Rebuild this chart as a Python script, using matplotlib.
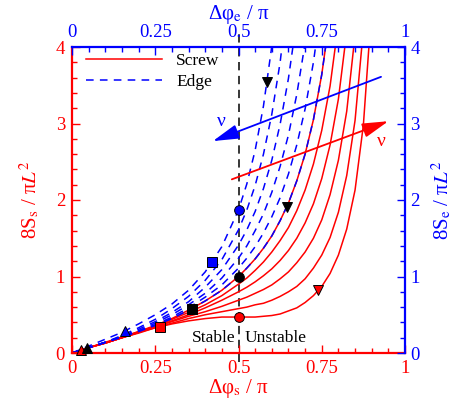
import matplotlib
matplotlib.use('Agg')
import matplotlib.pyplot as plt
from matplotlib.ticker import MultipleLocator

plt.rcParams['font.family'] = 'Liberation Serif'
plt.rcParams['mathtext.fontset'] = 'stix'
plt.rcParams['lines.scale_dashes'] = False

# delta phi / pi sampling
dphi = [0.0, 0.05, 0.1, 0.15, 0.2, 0.25, 0.3, 0.35, 0.4, 0.45, 0.5, 0.525, 0.55, 0.575, 0.6, 0.625,
        0.65, 0.675, 0.7, 0.725, 0.75, 0.775, 0.8, 0.825, 0.85, 0.875, 0.9, 0.925, 0.95]

# screw curves, nu = 0 .. 0.5
screw_00 = [0.00, 0.07, 0.14, 0.21, 0.28, 0.36, 0.45, 0.56, 0.68, 0.82, 1.00, 1.11, 1.23, 1.37, 1.53, 1.73,
            1.96, 2.25, 2.60, 3.05, 3.64, 4.42]
screw_01 = [0.00, 0.07, 0.13, 0.20, 0.28, 0.35, 0.44, 0.53, 0.63, 0.75, 0.90, 0.98, 1.08, 1.19, 1.32, 1.47,
            1.64, 1.86, 2.13, 2.47, 2.91, 3.49, 4.31]
screw_02 = [0.00, 0.07, 0.13, 0.20, 0.27, 0.35, 0.42, 0.50, 0.59, 0.69, 0.80, 0.86, 0.93, 1.01, 1.10, 1.21,
            1.34, 1.50, 1.70, 1.95, 2.28, 2.72, 3.32, 4.20]
screw_03 = [0.00, 0.07, 0.13, 0.20, 0.27, 0.34, 0.41, 0.48, 0.54, 0.61, 0.69, 0.73, 0.78, 0.83, 0.89, 0.97,
            1.06, 1.18, 1.32, 1.50, 1.74, 2.07, 2.52, 3.16, 4.16]
screw_04 = [0.00, 0.07, 0.13, 0.20, 0.27, 0.33, 0.39, 0.45, 0.50, 0.54, 0.58, 0.60, 0.63, 0.65, 0.69, 0.74,
            0.80, 0.87, 0.97, 1.11, 1.28, 1.51, 1.84, 2.32, 3.04, 4.23]
screw_05 = [0.00, 0.07, 0.13, 0.20, 0.26, 0.33, 0.38, 0.42, 0.45, 0.47, 0.47, 0.47, 0.47, 0.48, 0.49, 0.51,
            0.55, 0.59, 0.66, 0.75, 0.87, 1.04, 1.28, 1.62, 2.13, 2.98, 4.52]

# edge curves, nu = 0.1 .. 0.5 (nu = 0 is the same as screw)
edge_01 = [0.00, 0.07, 0.14, 0.21, 0.29, 0.37, 0.47, 0.59, 0.73, 0.89, 1.11, 1.24, 1.39, 1.57, 1.78, 2.03,
           2.34, 2.72, 3.19, 3.80, 4.60]
edge_02 = [0.00, 0.07, 0.14, 0.21, 0.29, 0.39, 0.50, 0.63, 0.78, 0.98, 1.24, 1.40, 1.60, 1.82, 2.10, 2.44,
           2.85, 3.38, 4.05]
edge_03 = [0.00, 0.07, 0.14, 0.22, 0.31, 0.41, 0.53, 0.67, 0.86, 1.09, 1.41, 1.61, 1.85, 2.15, 2.52, 2.99,
           3.59, 4.36]
edge_04 = [0.00, 0.07, 0.14, 0.23, 0.33, 0.44, 0.58, 0.74, 0.95, 1.22, 1.61, 1.87, 2.19, 2.60, 3.12, 3.80,
           4.72]
edge_05 = [0.00, 0.09, 0.18, 0.27, 0.38, 0.50, 0.64, 0.82, 1.06, 1.39, 1.87, 2.21, 2.65, 3.23, 4.01]

screw = [screw_00, screw_01, screw_02, screw_03, screw_04, screw_05]
edge = [screw_00, edge_01, edge_02, edge_03, edge_04, edge_05]

# special points
circ_x, circ_y = [0.5, 0.5, 0.5], [0.47, 1.0, 1.87]
circ_c = ['red', 'black', 'blue']
sq_x, sq_y = [0.264, 0.36, 0.42], [0.345, 0.58, 1.19]
sq_c = ['red', 'black', 'blue']
tup_x, tup_y = [0.028, 0.045, 0.16], [0.045, 0.065, 0.29]
tup_c = ['red', 'black', 'blue']
tdn_x, tdn_y = [0.74, 0.645, 0.585], [0.83, 1.91, 3.54]
tdn_c = ['red', 'black', 'black']

fig = plt.figure(figsize=(4.54, 4.01), dpi=100)
ax = fig.add_axes([72 / 454, 48 / 401, 333 / 454, 306 / 401])

for i, y in enumerate(screw):
    ax.plot(dphi[:len(y)], y, color='red', lw=1.1, label='Screw' if i == 0 else None)
for i, y in enumerate(edge):
    ax.plot(dphi[:len(y)], y, color='blue', lw=1.1, dashes=(5.5, 4.5), label='Edge' if i == 0 else None)

# stability limit
ax.axvline(0.5, ymin=-0.03, ymax=1.045, color='black', lw=1.1, dashes=(6, 4), clip_on=False, zorder=1)

for xs, ys, cs, m, ms in [(circ_x, circ_y, circ_c, 'o', 7), (sq_x, sq_y, sq_c, 's', 6.5),
                          (tup_x, tup_y, tup_c, '^', 7), (tdn_x, tdn_y, tdn_c, 'v', 7)]:
    for x, y, c in zip(xs, ys, cs):
        ax.plot(x, y, marker=m, ms=ms, mfc=c, mec='black', mew=0.7, ls='none', zorder=5, clip_on=False)

# nu arrows
ax.annotate('', xy=(0.423, 2.77), xytext=(0.928, 3.61),
            arrowprops=dict(arrowstyle='-|>,head_length=0.8,head_width=0.22', color='blue', lw=1.3,
                            mutation_scale=20, shrinkA=0, shrinkB=0))
ax.annotate('', xy=(0.95, 3.03), xytext=(0.48, 2.27),
            arrowprops=dict(arrowstyle='-|>,head_length=0.8,head_width=0.22', color='red', lw=1.3,
                            mutation_scale=20, shrinkA=0, shrinkB=0))
ax.text(0.45, 3.02, 'ν', color='blue', fontsize=14, ha='center', va='center')
ax.text(0.93, 2.76, 'ν', color='red', fontsize=14, ha='center', va='center')

ax.text(0.49, 0.2, 'Stable', fontsize=12.5, ha='right', va='center')
ax.text(0.518, 0.2, 'Unstable', fontsize=12.5, ha='left', va='center')

ax.legend(loc='upper left', bbox_to_anchor=(0.005, 1.02), frameon=False, fontsize=12.5,
          handlelength=4.4, handletextpad=0.8, labelspacing=0.25, borderaxespad=0.3)

ax.set_xlim(0, 1)
ax.set_ylim(0, 4)
ticks = [0, 0.25, 0.5, 0.75, 1]
tlabels = ['0', '0.25', '0.5', '0.75', '1']
ax.set_xticks(ticks)
ax.set_xticklabels(tlabels)
ax.xaxis.set_minor_locator(MultipleLocator(0.05))
ax.yaxis.set_major_locator(MultipleLocator(1))
ax.yaxis.set_minor_locator(MultipleLocator(0.2))
ax.tick_params(which='both', direction='in', colors='red', labelsize=13.5, width=1.0, pad=5)
ax.tick_params(which='major', length=6)
ax.tick_params(which='minor', length=3.5)
ax.spines['left'].set_color('red')
ax.spines['bottom'].set_color('red')
ax.spines['top'].set_visible(False)
ax.spines['right'].set_visible(False)
for s in ['left', 'bottom']:
    ax.spines[s].set_linewidth(1.6)
ax.set_xlabel('Δφ$_{\\rm s}$ / π', color='red', fontsize=15, labelpad=0)
ax.set_ylabel('8S$_{\\rm s}$ / π$L^2$', color='red', fontsize=15, labelpad=10)

axr = ax.twinx()
axr.set_ylim(0, 4)
axr.yaxis.set_major_locator(MultipleLocator(1))
axr.yaxis.set_minor_locator(MultipleLocator(0.2))
axt = ax.twiny()
axt.set_xlim(0, 1)
axt.set_xticks(ticks)
axt.set_xticklabels(tlabels)
axt.xaxis.set_minor_locator(MultipleLocator(0.05))
for a in (axr, axt):
    a.tick_params(which='both', direction='in', colors='blue', labelsize=13.5, width=1.0, pad=4)
    a.tick_params(which='major', length=6)
    a.tick_params(which='minor', length=3.5)
    for s in a.spines.values():
        s.set_visible(False)
axr.spines['right'].set_visible(True)
axr.spines['right'].set_color('blue')
axr.spines['right'].set_linewidth(1.6)
axt.spines['top'].set_visible(True)
axt.spines['top'].set_color('blue')
axt.spines['top'].set_linewidth(1.6)
axr.set_ylabel('8S$_{\\rm e}$ / π$L^2$', color='blue', fontsize=15, labelpad=7)
axt.set_xlabel('Δφ$_{\\rm e}$ / π', color='blue', fontsize=15, labelpad=4)

fig.savefig('out.png')
